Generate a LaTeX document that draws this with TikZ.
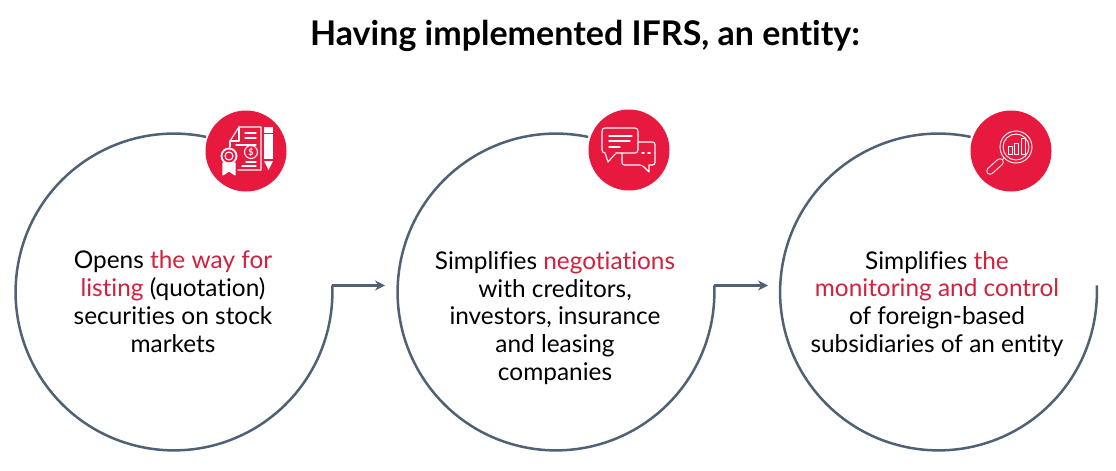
\documentclass[tikz,border=0pt]{standalone}
\usepackage{fontspec}
\setmainfont{Lato}[Ligatures=NoCommon]
\usetikzlibrary{arrows.meta}
\definecolor{ringc}{HTML}{4F6275}
\definecolor{redc}{HTML}{E8193F}
\definecolor{redt}{HTML}{D3203F}
\tikzset{
  x=1pt,y=-1pt,
  ring/.style={draw=ringc,line width=2.5pt},
  link/.style={draw=ringc,line width=2.5pt,-{Stealth[length=10pt,width=10pt]}},
  badge/.style={circle,fill=redc,minimum size=81pt,inner sep=0pt,draw=none},
  ico/.style={draw=white,line width=1.1pt,line join=round,line cap=round},
  body/.style={align=center,font=\fontsize{24.4}{27.8}\selectfont,text=black,inner sep=0pt},
}
\newcommand{\hl}[1]{\textcolor{redt}{#1}}
\begin{document}
\begin{tikzpicture}
\useasboundingbox (0,0) rectangle (1116,471);
\fill[white] (0,0) rectangle (1116,471);
\node[inner sep=0pt,font=\fontsize{34}{38}\selectfont\bfseries] (title) at (585,36) {Having implemented IFRS, an entity:};
% rings
\coordinate (c1) at (174,292);
\coordinate (c2) at (556,292);
\coordinate (c3) at (938.5,292);
\coordinate (e1) at (332.3,285.5);
\coordinate (e2) at (714.3,285.5);
\coordinate (t1) at (385,285.5);
\coordinate (t2) at (768,285.5);
\draw[ring] ([shift={(78.3:158.4 and -158.4)}]c1) arc[start angle=-78.3,end angle=-362.4,radius=158.4];
\draw[ring] ([shift={(78.3:158.4 and -158.4)}]c2) arc[start angle=-78.3,end angle=-362.4,radius=158.4];
\draw[ring] ([shift={(78.3:158.4 and -158.4)}]c3) arc[start angle=-78.3,end angle=-362.4,radius=158.4];
\draw[link] (e1) -- (t1);
\draw[link] (e2) -- (t2);
% badges
\node[badge] (b1) at (246,151) {};
\node[badge] (b2) at (629,150) {};
\node[badge] (b3) at (1011,151) {};
% icon 1
\begin{scope}[shift={(b1.center)},ico]
  \draw (-16,-10) -- (-7,-24) -- (15,-24) -- (15,19) -- (-8,19);
  \draw (-16,-10) -- (-16,-4);
  \draw (-16,-10) -- (-7,-10) -- (-7,-24);
  \draw (-1,-18) -- (10,-18) (-1,-13) -- (10,-13) (-10,-6) -- (10,-6);
  \draw (5,1) circle[radius=6.5];
  \node[text=white,font=\fontsize{9}{9}\selectfont\bfseries,inner sep=0pt] (d1) at (5,1) {\$};
  \draw (0,11) -- (10,11) (-4,15) -- (10,15);
  \draw[line width=1.8pt] (-17,5) circle[radius=7.5];
  \draw (-17,5) circle[radius=4];
  \draw[fill=white] (-23,12) -- (-23,24) -- (-17,20) -- (-11,24) -- (-11,12) -- cycle;
  \fill[white] (18,-24) rectangle (27,8);
  \draw[fill=redc,draw=redc,line width=.8pt] (18,-18) -- (27,-18);
  \fill[white] (18,10) -- (27,10) -- (22.5,19) -- cycle;
\end{scope}
% icon 2
\begin{scope}[shift={(b2.center)},ico]
  \draw[fill=redc] (-7,3) -- (-7,12) [rounded corners=2.5pt] -- (-7,15) -- (13,15) [sharp corners] -- (20,22) -- (20,15) [rounded corners=2.5pt] -- (26,15) -- (26,-8) -- (9,-8);
  \draw[fill=redc,rounded corners=3pt] (-27,-22) rectangle (9,3);
  \draw[fill=redc] (-24,3) -- (-21,12) -- (-13,3);
  \draw[draw=redc,line width=1.4pt] (-23,3) -- (-14,3);
  \draw (-20,-14) -- (3,-14) (-20,-9) -- (1,-9) (-20,-3) -- (-9,-3);
  \draw[line width=1.5pt] (13,3) -- (15,3) (19,3) -- (21,3);
\end{scope}
% icon 3
\begin{scope}[shift={(b3.center)},ico]
  \draw[line width=.9pt] (5,-4) circle[radius=16];
  \draw[line width=.9pt] (5,-4) circle[radius=13];
  \draw[line width=1pt] (-7,7) -- (-9,9);
  \draw[line cap=round,line width=7.5pt] (-21,20) -- (-11,11);
  \draw[line cap=round,line width=5.5pt,draw=redc] (-21,20) -- (-11,11);
  \draw[line width=1pt] (-3,-5) rectangle (1,3) (3,-8) rectangle (7.5,3) (10,-13) rectangle (14,3);
\end{scope}
% text
\node[body] (txt1) at (173,301.5) {Opens \hl{the way for}\\\hl{listing} (quotation)\\securities on stock\\markets};
\node[body] (txt2) at (555,318) {Simplifies \hl{negotiations}\\with creditors,\\investors, insurance\\and leasing\\companies};
\node[body] (txt3) at (937,304) {Simplifies \hl{the}\\\hl{monitoring and control}\\of foreign-based\\subsidiaries of an entity};
\end{tikzpicture}
\end{document}
